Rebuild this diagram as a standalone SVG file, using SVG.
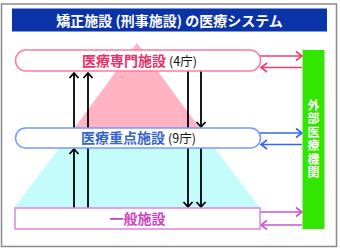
<svg xmlns="http://www.w3.org/2000/svg" width="340" height="249" viewBox="0 0 340 249">
<defs>
<style>
.jp{font-family:"Noto Sans CJK JP","Noto Sans",sans-serif;}
.lbl{font-size:14px;font-weight:bold;}
.sub{font-size:12.5px;fill:#111;}
.k{stroke:#000;stroke-width:1.8;fill:none;}
.pk{stroke:#F03C6E;stroke-width:1.6;fill:none;}
.bl{stroke:#3366EE;stroke-width:1.6;fill:none;}
.mg{stroke:#CC55CC;stroke-width:1.6;fill:none;}
</style>
<marker id="ak" viewBox="-7 -6 9 12" markerWidth="9" markerHeight="12" refX="0" refY="0" orient="auto" markerUnits="userSpaceOnUse"><path d="M-5,-4.5 L0,0 L-5,4.5" fill="none" stroke="#000" stroke-width="1.8"/></marker>
<marker id="apk" viewBox="-8 -6 10 12" markerWidth="10" markerHeight="12" refX="0" refY="0" orient="auto" markerUnits="userSpaceOnUse"><path d="M-6,-4.5 L0,0 L-6,4.5" fill="none" stroke="#F03C6E" stroke-width="1.6"/></marker>
<marker id="abl" viewBox="-8 -6 10 12" markerWidth="10" markerHeight="12" refX="0" refY="0" orient="auto" markerUnits="userSpaceOnUse"><path d="M-6,-4.5 L0,0 L-6,4.5" fill="none" stroke="#3366EE" stroke-width="1.6"/></marker>
<marker id="amg" viewBox="-8 -6 10 12" markerWidth="10" markerHeight="12" refX="0" refY="0" orient="auto" markerUnits="userSpaceOnUse"><path d="M-6,-4.5 L0,0 L-6,4.5" fill="none" stroke="#CC55CC" stroke-width="1.6"/></marker>
</defs>
<rect x="0" y="0" width="340" height="249" fill="#fff"/>
<rect x="1.5" y="4" width="335" height="242.5" fill="#fff" stroke="#8a8a8a" stroke-width="1.5"/>
<g id="title">
<rect x="12" y="8.5" width="315" height="23" fill="#0A33A8"/>
<text x="169.5" y="25.5" text-anchor="middle" class="jp" font-size="14" font-weight="bold" fill="#fff">矯正施設 (刑事施設) の医療システム</text>
</g>
<g id="pyramid">
<polygon points="137,43 67,138 207,138" fill="#FFB3C3"/>
<polygon points="67,138 207,138 260,208 14,208" fill="#C4FCFC"/>
</g>
<g id="connectors">
<line class="k" x1="74" y1="128" x2="74" y2="73" marker-end="url(#ak)"/>
<line class="k" x1="88" y1="208" x2="88" y2="73" marker-end="url(#ak)"/>
<line class="k" x1="74" y1="208" x2="74" y2="149" marker-end="url(#ak)"/>
<line class="k" x1="188" y1="71" x2="188" y2="207" marker-end="url(#ak)"/>
<line class="k" x1="201" y1="71" x2="201" y2="127" marker-end="url(#ak)"/>
<line class="k" x1="201" y1="148" x2="201" y2="207" marker-end="url(#ak)"/>
<line class="pk" x1="258" y1="56" x2="302" y2="56" marker-end="url(#apk)"/>
<line class="pk" x1="302" y1="67.5" x2="261" y2="67.5" marker-end="url(#apk)"/>
<line class="bl" x1="258" y1="133" x2="302" y2="133" marker-end="url(#abl)"/>
<line class="bl" x1="302" y1="144.5" x2="261" y2="144.5" marker-end="url(#abl)"/>
<line class="mg" x1="258" y1="212" x2="302" y2="212" marker-end="url(#amg)"/>
<line class="mg" x1="302" y1="225" x2="261" y2="225" marker-end="url(#amg)"/>
</g>
<g id="senmon">
<rect x="15.5" y="50" width="245" height="21" rx="10.5" fill="#fff" stroke="#FF7B9C" stroke-width="1.5"/>
<text x="82" y="65.5" class="jp lbl" fill="#E8336A">医療専門施設</text>
<text x="169" y="65.5" class="jp sub">(4庁)</text>
</g>
<g id="juten">
<rect x="15.5" y="128" width="245" height="20" rx="10" fill="#fff" stroke="#7799FF" stroke-width="1.5"/>
<text x="81" y="142.5" class="jp lbl" fill="#3366CC">医療重点施設</text>
<text x="168" y="142.5" class="jp sub">(9庁)</text>
</g>
<g id="ippan">
<rect x="15" y="208" width="245" height="21" fill="#fff" stroke="#DD88DD" stroke-width="1.5"/>
<text x="137.5" y="223.5" text-anchor="middle" class="jp lbl" fill="#CC44BB">一般施設</text>
</g>
<g id="gaibu">
<rect x="302.5" y="50" width="22" height="179" fill="#33E600"/>
<text class="jp" font-size="12" font-weight="bold" fill="#fff" text-anchor="middle"><tspan x="313.5" y="109.5">外</tspan><tspan x="313.5" y="123">部</tspan><tspan x="313.5" y="136.5">医</tspan><tspan x="313.5" y="150">療</tspan><tspan x="313.5" y="163.5">機</tspan><tspan x="313.5" y="177">関</tspan></text>
</g>
</svg>
